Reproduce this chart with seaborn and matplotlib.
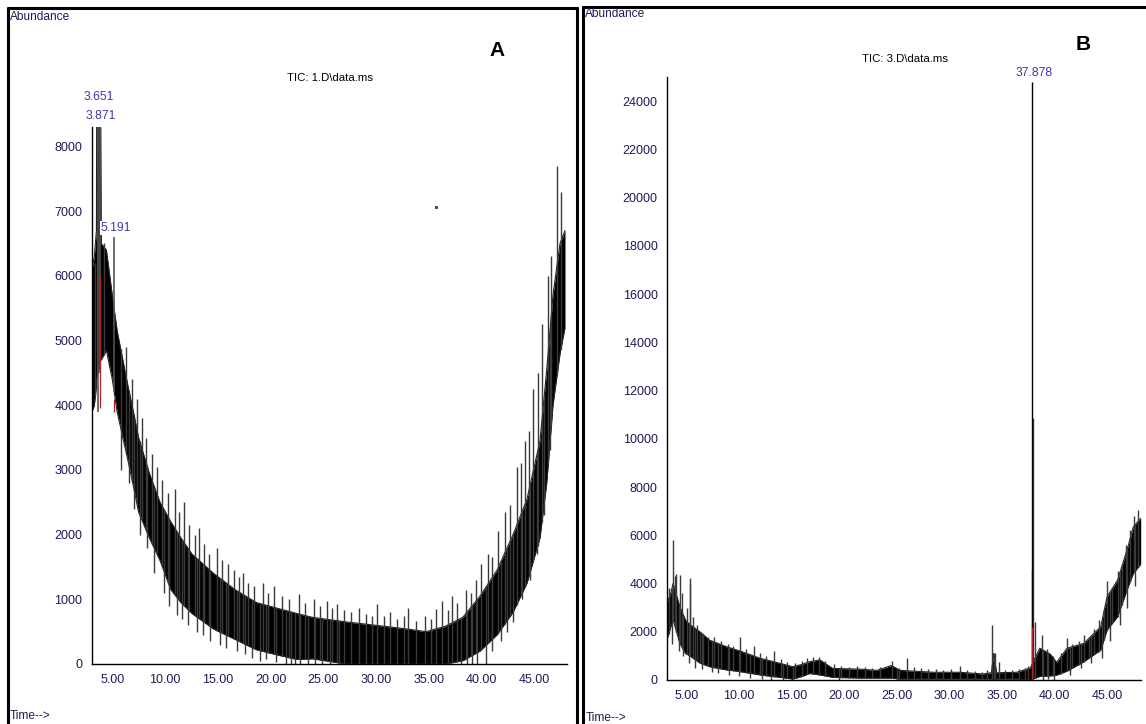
import numpy as np
import matplotlib
matplotlib.use('Agg')
import matplotlib.pyplot as plt
import seaborn as sns
from matplotlib.ticker import MultipleLocator, FormatStrFormatter
from matplotlib.lines import Line2D

# ---- panel A (TIC: 1.D\data.ms) : envelope of the noisy trace
a_time = [3.09, 3.3, 3.5, 3.52, 3.9, 3.95, 4.44, 5.0, 5.46, 6.0, 6.48, 7.0, 7.49, 8.51, 9.52,
          10.54, 11.5, 12.55, 14.6, 16.63, 18.65, 20.9, 22.5, 24.0, 27.2, 30.4, 33.0, 34.7,
          36.5, 38.2, 39.84, 41.45, 42.97, 44.29, 45.52, 46.16, 46.75, 47.42, 47.89]
a_top = [6100, 6300, 6700, 8300, 8300, 6500, 6400, 5700, 5150, 4700, 4300, 3900, 3500, 2950, 2500,
         2200, 1950, 1700, 1400, 1150, 950, 850, 780, 720, 650, 590, 540, 500,
         580, 720, 1050, 1450, 2000, 2550, 3450, 4550, 5700, 6500, 6700]
a_bottom = [3900, 4000, 4300, 4400, 4700, 4700, 4850, 4400, 3900, 3500, 3150, 2750, 2350, 1950, 1600,
            1150, 950, 780, 540, 380, 220, 130, 70, 80, 0, 0, 0, 0,
            0, 50, 200, 450, 800, 1250, 1950, 2800, 4000, 4800, 5200]
a_spike_time = [3.4, 4.2, 6.3, 6.9, 7.3, 7.8, 8.2, 8.8, 9.2, 9.7, 10.3, 10.9, 11.3, 11.8, 12.3,
                12.8, 13.2, 13.7, 14.2, 14.9, 15.4, 16.0, 16.5, 17.0, 17.4, 17.9, 18.4, 19.3,
                19.8, 20.3, 21.1, 21.7, 22.7, 23.3, 24.1, 24.7, 25.3, 25.8, 26.3, 27.0, 27.6,
                28.4, 29.0, 29.6, 30.1, 30.7, 31.3, 32.0, 32.6, 33.0, 33.8, 34.6, 35.2, 35.7,
                36.2, 36.8, 37.2, 37.7, 38.5, 39.0, 39.5, 39.9, 40.6, 41.0, 41.5, 42.2, 42.7,
                43.3, 43.7, 44.1, 44.5, 44.9, 45.3, 45.7, 46.3, 46.6, 47.15, 47.5]
a_spike_top = [6200, 6500, 4900, 4400, 4100, 3800, 3500, 3250, 3050, 2850, 2650, 2700, 2350, 2500, 2150,
               2000, 2100, 1850, 1700, 1800, 1600, 1550, 1450, 1350, 1400, 1250, 1200, 1250,
               1100, 1200, 1050, 1000, 1080, 950, 1000, 900, 980, 870, 930, 840, 800,
               860, 780, 740, 920, 740, 800, 700, 740, 870, 660, 740, 700, 850,
               980, 840, 1050, 950, 1150, 1100, 1300, 1550, 1700, 1650, 2050, 2350, 2450,
               3050, 3100, 3450, 3600, 4250, 4500, 5250, 6000, 6300, 7700, 7300]
a_dip_time = [5.8, 6.6, 7.1, 7.6, 8.3, 9.0, 9.9, 10.4, 11.1, 11.6, 12.2, 13.0, 13.6, 14.3, 15.2,
              15.8, 16.8, 17.6, 18.2, 19.0, 19.6, 20.5, 21.5, 21.9, 22.3, 22.8, 23.5, 24.2,
              24.9, 25.6, 26.5, 38.0, 38.6, 39.1, 39.6, 40.4, 41.0, 41.8, 42.4, 43.0, 43.8,
              44.6, 45.2, 45.9, 46.5]
a_dip_low = [3000, 2800, 2400, 2000, 1800, 1400, 1100, 900, 750, 700, 600, 500, 450, 350, 300,
             250, 200, 150, 100, 50, 80, 30, 0, 0, 0, 0, 0, 0,
             0, 0, 0, 0, 0, 0, 0, 0, 200, 350, 500, 650, 1000,
             1300, 1700, 2300, 3300]
a_peak_time = [3.651, 3.871, 5.191]
a_peak_height = [8300, 8300, 6600]
a_peak_base = [3900, 4500, 4200]
a_peak_labels = ['3.651', '3.871', '5.191']

# ---- panel B (TIC: 3.D\data.ms)
b_time = [3.15, 3.5, 3.72, 4.36, 4.9, 5.31, 6.27, 7.2, 8.8, 10.1, 12.0, 13.9, 15.1, 16.0, 16.7,
          17.7, 18.9, 21.5, 23.1, 24.5, 25.3, 28.5, 31.0, 33.2, 34.0, 34.2, 34.5, 36.4, 37.7,
          38.6, 39.6, 40.2, 41.2, 42.8, 44.4, 45.0, 46.0, 46.9, 47.5, 48.2]
b_top = [3200, 3600, 4000, 3040, 2490, 2300, 2000, 1650, 1380, 1200, 900, 690, 550, 650, 760,
         830, 480, 450, 400, 600, 400, 320, 320, 250, 300, 1100, 300, 320, 500,
         1320, 1070, 730, 1320, 1520, 2210, 3450, 4140, 5390, 6350, 6700]
b_bottom = [1700, 2200, 2500, 1520, 1100, 1000, 700, 550, 420, 350, 210, 110, 40, 150, 270,
            210, 110, 80, 80, 80, 40, 40, 40, 40, 40, 0, 40, 40, 0,
            150, 170, 200, 370, 760, 1240, 2070, 2620, 3730, 4420, 4800]
b_spike_time = [3.3, 3.72, 3.9, 4.04, 4.36, 4.6, 5.0, 5.31, 5.35, 5.6, 6.0, 6.3, 6.6, 7.0, 7.6,
                8.3, 8.9, 9.4, 10.1, 10.7, 11.4, 12.0, 12.6, 13.3, 14.0, 14.6, 15.3, 16.0,
                16.5, 17.0, 17.6, 18.2, 19.0, 19.7, 20.5, 21.2, 22.0, 22.6, 23.4, 24.5, 25.2,
                25.95, 26.6, 27.3, 28.0, 28.7, 29.4, 30.2, 31.0, 31.7, 32.4, 33.1, 33.6,
                34.05, 34.35, 34.7, 35.3, 36.0, 36.6, 37.2, 37.5, 37.82, 37.95, 38.1, 38.8,
                39.3, 39.9, 40.6, 41.2, 41.7, 42.3, 42.8, 43.3, 43.8, 44.2, 44.7, 45.0, 45.5,
                46.0, 46.4, 46.8, 47.2, 47.6, 47.95]
b_spike_top = [3800, 5800, 4300, 4400, 4350, 3600, 3000, 4210, 4000, 2600, 2300, 2000, 1900, 1800, 1800,
               1600, 1500, 1400, 1800, 1300, 1400, 1100, 1000, 1200, 850, 750, 700, 800,
               900, 950, 950, 800, 650, 600, 550, 600, 550, 500, 550, 800, 500,
               900, 550, 500, 450, 450, 400, 450, 600, 400, 380, 350, 400,
               2300, 1100, 730, 400, 420, 450, 500, 600, 4560, 10860, 2390, 1880,
               1300, 1000, 1100, 1760, 1500, 1600, 1880, 1800, 2100, 2500, 2900, 4110, 3800,
               4500, 4700, 5600, 6200, 6800, 7050]
b_dip_time = [3.6, 4.3, 4.7, 5.2, 5.8, 6.5, 7.4, 8.0, 9.0, 10.0, 11.0, 12.2, 13.0, 14.2, 15.1,
              19.5, 25.0, 34.2, 38.9, 39.4, 40.0, 41.5, 42.5, 43.5, 44.5, 45.3, 46.2, 46.9, 47.7]
b_dip_low = [1500, 1200, 1000, 700, 500, 450, 350, 300, 200, 150, 100, 50, 0, 0, 0,
             0, 0, 0, 0, 50, 0, 200, 500, 700, 900, 1600, 2300, 3000, 3900]
b_peak_time = [37.878]
b_peak_height = [24800]
b_peak_labels = ['37.878']

W, H = 1146, 724
blue = '#3a3aa8'
navy = '#1c1c55'

sns.set_style('white')
plt.rcParams['font.family'] = ['Liberation Sans', 'DejaVu Sans']

fig = plt.figure(figsize=(W / 100, H / 100), dpi=100)


def px(x, y):
    return x / W, 1 - y / H


def draw_trace(ax, t, top, bottom, spike_t, spike_top, dip_t, dip_low):
    t = np.asarray(t)
    ax.fill_between(t, bottom, top, color='black', lw=0)
    sns.lineplot(x=t, y=top, ax=ax, color='#222222', lw=0.8, sort=False)
    sns.lineplot(x=t, y=bottom, ax=ax, color='#222222', lw=0.8, sort=False)
    # noise spikes above the band and dips below it
    ax.vlines(spike_t, np.interp(spike_t, t, bottom), spike_top, color='#3a3a3a', lw=1.0)
    ax.vlines(dip_t, dip_low, np.interp(dip_t, t, top), color='#3a3a3a', lw=1.0)


def style_axis(ax, xlim, ymax, ymajor, yminor):
    ax.set_xlim(*xlim)
    ax.set_ylim(0, ymax)
    sns.despine(ax=ax)
    for s in ['left', 'bottom']:
        ax.spines[s].set_color('black')
        ax.spines[s].set_linewidth(1.0)
    ax.xaxis.set_major_locator(MultipleLocator(5))
    ax.xaxis.set_minor_locator(MultipleLocator(1))
    ax.xaxis.set_major_formatter(FormatStrFormatter('%.2f'))
    ax.yaxis.set_major_locator(MultipleLocator(ymajor))
    ax.yaxis.set_minor_locator(MultipleLocator(yminor))
    ax.tick_params(which='major', direction='out', length=5, width=0.9, color='black',
                   labelsize=9, labelcolor=navy, pad=2)
    ax.tick_params(which='minor', direction='out', length=2.5, width=0.8, color='black')
    ax.set_xlabel('')
    ax.set_ylabel('')
    ax.patch.set_alpha(0)


# panel A
axA = fig.add_axes([92 / W, 1 - 664 / H, (567 - 92) / W, (664 - 127) / H])
draw_trace(axA, a_time, a_top, a_bottom, a_spike_time, a_spike_top, a_dip_time, a_dip_low)
axA.vlines(a_peak_time, a_peak_base, a_peak_height, color='#555555', lw=1.2)
axA.vlines([3.84, 5.2], [3950, 3900], [6000, 4100], color='#b22222', lw=0.9)
axA.plot([35.7], [7070], marker='s', ms=1.2, color='#444444', ls='none')
style_axis(axA, (3.08, 48.08), 8300, 1000, 200)

# panel B
axB = fig.add_axes([667.3 / W, 1 - 680 / H, (1140.7 - 667.3) / W, (680 - 77) / H])
draw_trace(axB, b_time, b_top, b_bottom, b_spike_time, b_spike_top, b_dip_time, b_dip_low)
axB.vlines(b_peak_time, 0, b_peak_height, color='black', lw=1.0)
axB.vlines([37.9], [0], [2200], color='#b22222', lw=0.9)
style_axis(axB, (3.17, 48.2), 25000, 2000, 400)

# peak labels (white box so the trace does not run through them)
for lab, (x, y) in zip(a_peak_labels, [(99, 97), (101, 116), (116, 228)]):
    fig.text(*px(x, y), lab, color=blue, fontsize=8.7, ha='center', va='center',
             bbox=dict(fc='white', ec='none', pad=0.5))
for lab, (x, y) in zip(b_peak_labels, [(1034, 73)]):
    fig.text(*px(x, y), lab, color=blue, fontsize=8.7, ha='center', va='center')

# headers
fig.text(*px(10, 17), 'Abundance', color=navy, fontsize=8.6, ha='left', va='center')
fig.text(*px(10, 716), 'Time-->', color=navy, fontsize=8.6, ha='left', va='center')
fig.text(*px(330, 78), 'TIC: 1.D\\data.ms', color='black', fontsize=8.2, ha='center', va='center')
fig.text(*px(497, 50), 'A', color='black', fontsize=15, fontweight='bold', ha='center', va='center')

fig.text(*px(585, 14), 'Abundance', color=navy, fontsize=8.6, ha='left', va='center')
fig.text(*px(586, 718), 'Time-->', color=navy, fontsize=8.6, ha='left', va='center')
fig.text(*px(905, 59), 'TIC: 3.D\\data.ms', color='black', fontsize=8.2, ha='center', va='center')
fig.text(*px(1083, 45), 'B', color='black', fontsize=15, fontweight='bold', ha='center', va='center')

# panel frames
for (x0, y0), (x1, y1) in [((8, 8), (8, 730)), ((8, 8), (577, 8)), ((577, 8), (577, 730)),
                           ((583, 7), (583, 730)), ((583, 7), (1150, 7))]:
    fig.add_artist(Line2D([x0 / W, x1 / W], [1 - y0 / H, 1 - y1 / H], color='black', lw=2.2))

fig.savefig('out.png', dpi=100)
